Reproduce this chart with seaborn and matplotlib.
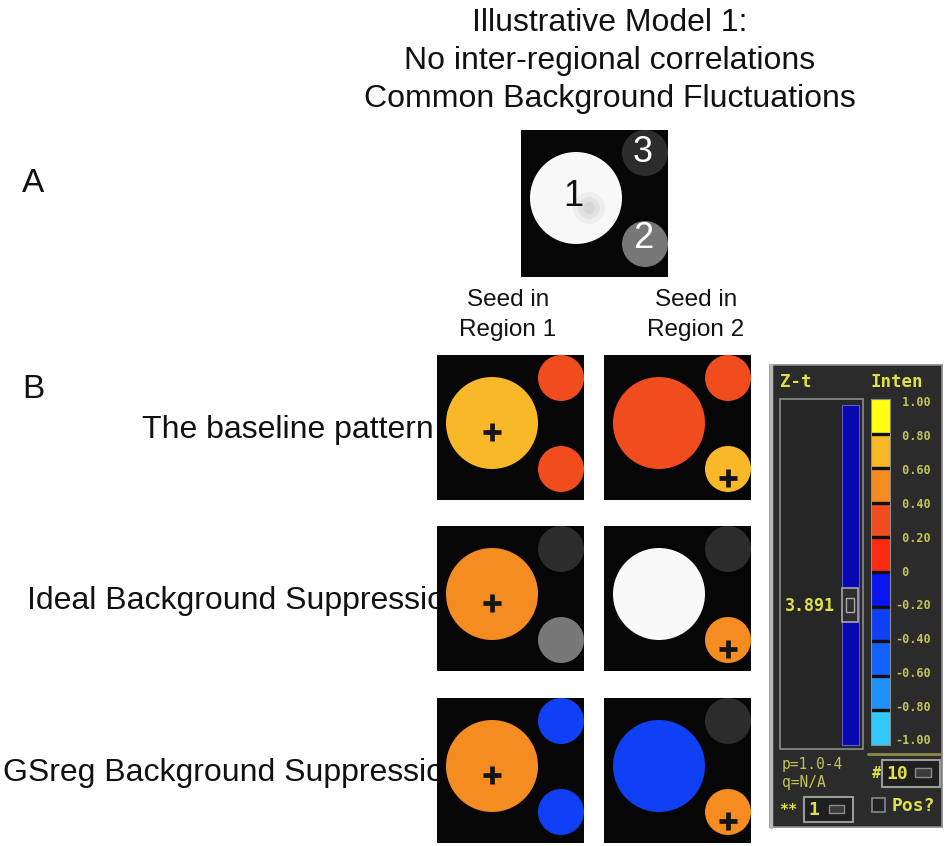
import numpy as np
import matplotlib.pyplot as plt
from matplotlib.colors import ListedColormap, Normalize
from matplotlib.patches import Circle, Rectangle
import seaborn as sns

sns.set_style('white')
plt.rcParams['font.family'] = ['Liberation Sans', 'DejaVu Sans']

# ---- content ----
title_lines = ['Illustrative Model 1:', 'No inter-regional correlations',
               'Common Background Fluctuations']
row_labels = ['The baseline pattern', 'Ideal Background Suppression',
              'GSreg Background Suppression']
seed_labels = [['Seed in', 'Region 1'], ['Seed in', 'Region 2']]
region_ids = [1, 2, 3]
underlay_grey = ['#f8f8f8', '#777777', '#2c2c2c']   # anatomical underlay of regions 1,2,3

# correlation with the seed shown in regions 1, 2, 3 (nan = below threshold)
baseline_seed1 = [0.7, 0.3, 0.3]
baseline_seed2 = [0.3, 0.7, 0.3]
ideal_seed1 = [0.5, np.nan, np.nan]
ideal_seed2 = [np.nan, 0.5, np.nan]
gsreg_seed1 = [0.5, -0.3, -0.3]
gsreg_seed2 = [-0.3, 0.5, np.nan]
rows = [[baseline_seed1, baseline_seed2],
        [ideal_seed1, ideal_seed2],
        [gsreg_seed1, gsreg_seed2]]
seeds = [1, 2]

# AFNI colour bar (-1 -> 1)
bin_colors = ['#33c8ff', '#2090ff', '#1462ff', '#1040f5', '#0a14f0',
              '#ff2a12', '#f04c1e', '#f58c22', '#f9b828', '#ffff10']
tick_values = [1.0, 0.8, 0.6, 0.4, 0.2, 0.0, -0.2, -0.4, -0.6, -0.8, -1.0]
tick_labels = [' 1.00', ' 0.80', ' 0.60', ' 0.40', ' 0.20', ' 0',
               '-0.20', '-0.40', '-0.60', '-0.80', '-1.00']
zt_value = '3.891'
pq_text = ['p=1.0-4', 'q=N/A']

cmap = ListedColormap(bin_colors)
norm = Normalize(-1, 1)

W, H = 947, 846
fig = plt.figure(figsize=(W / 100, H / 100), dpi=100)
canvas = fig.add_axes([0, 0, 1, 1])
canvas.set_xlim(0, W)
canvas.set_ylim(H, 0)
canvas.axis('off')


def box_axes(x, y, w, h):
    return fig.add_axes([x / W, 1 - (y + h) / H, w / W, h / H])


region_geom = {1: (55, 68, 46), 2: (124, 114, 23), 3: (124, 23, 23)}


def draw_tile(x, y, w, h, values, seed=None):
    ax = box_axes(x, y, w, h)
    ax.set_xlim(0, w)
    ax.set_ylim(h, 0)
    ax.set_facecolor('#060606')
    ax.set_xticks([])
    ax.set_yticks([])
    for s in ax.spines.values():
        s.set_visible(False)
    for rid, v in zip(region_ids, values):
        cx, cy, r = region_geom[rid]
        color = underlay_grey[rid - 1] if np.isnan(v) else cmap(norm(v))
        ax.add_patch(Circle((cx, cy), r, color=color, lw=0))
    if seed is not None:
        cx, cy, r = region_geom[seed]
        ax.plot(cx, cy + 9, marker='+', ms=13, mew=3.4, color='#141414')
    return ax


# ---- texts ----
for i, line in enumerate(title_lines):
    canvas.text(610, 23 + 38 * i, line, ha='center', va='center', fontsize=23, color='#111')
canvas.text(22, 183, 'A', ha='left', va='center', fontsize=24, color='#111')
canvas.text(22, 390, 'B', ha='left', va='center', fontsize=24, color='#111')
for xc, lab in zip([508, 696], seed_labels):
    canvas.text(xc, 300, lab[0], ha='center', va='center', fontsize=17.5, color='#111')
    canvas.text(xc, 330, lab[1], ha='center', va='center', fontsize=17.5, color='#111')

row_y = [355, 526, 698]
label_x = [142, 27, 3]
for ry, lx, lab in zip(row_y, label_x, row_labels):
    canvas.text(lx, ry + 75, lab, ha='left', va='center', fontsize=23, color='#111', zorder=1)

# ---- panel A ----
axA = draw_tile(521, 130, 147, 147, [np.nan, np.nan, np.nan])
for rad, a in [(16, 0.08), (11, 0.1), (6, 0.12)]:
    axA.add_patch(Circle((68, 78), rad, color='#808080', alpha=a, lw=0))
axA.text(52, 66, '1', ha='center', va='center', fontsize=26, color='#111')
axA.text(122, 23, '3', ha='center', va='center', fontsize=26, color='white')
axA.text(122, 108, '2', ha='center', va='center', fontsize=26, color='white')

# ---- panel B tiles ----
tile_x = [437, 604]
for ry, row in zip(row_y, rows):
    for tx, vals, seed in zip(tile_x, row, seeds):
        draw_tile(tx, ry, 147, 145, vals, seed)

# ---- AFNI colour panel ----
mono = 'DejaVu Sans Mono'
yel = '#e0e048'
olive = '#c4c456'
canvas.add_patch(Rectangle((770, 365), 172, 462, fc='#2b2b2b', ec='#8a8a8a', lw=1.2, zorder=3))
canvas.plot([771, 771], [365, 827], color='#b8b8b8', lw=2.5, zorder=4)
canvas.text(780, 382, 'Z-t', fontsize=12.5, family=mono, weight='bold', color=yel,
            ha='left', va='center', zorder=5)
canvas.text(871, 382, 'Inten', fontsize=12.5, family=mono, weight='bold', color=yel,
            ha='left', va='center', zorder=5)
# slider trough
canvas.add_patch(Rectangle((780, 399), 83, 350, fc='#262626', ec='#8c8c8c', lw=1.2, zorder=4))
canvas.add_patch(Rectangle((842, 405), 17, 340, fc='#0808b0', ec='#5a5ad0', lw=0.8, zorder=5))
canvas.add_patch(Rectangle((842, 588), 16, 34, fc='#2e2e2e', ec='#a8a8a8', lw=1.2, zorder=6))
canvas.add_patch(Rectangle((846, 598), 8, 14, fc='#2e2e2e', ec='#a8a8a8', lw=1.0, zorder=7))
canvas.text(785, 606, zt_value, fontsize=12, family=mono, weight='bold', color=yel,
            ha='left', va='center', zorder=5)
# colour strip
strip_top, strip_h = 399, 346
hm_ax = box_axes(871, strip_top, 19, strip_h)
centers = [(a + b) / 2 for a, b in zip(tick_values[:-1], tick_values[1:])]
sns.heatmap(np.array(centers).reshape(-1, 1), ax=hm_ax, cmap=cmap, vmin=-1, vmax=1,
            cbar=False, xticklabels=False, yticklabels=False)
hm_ax.hlines(range(1, len(centers)), 0, 1, color='#101010', lw=2.4)
for s in hm_ax.spines.values():
    s.set_visible(True)
    s.set_color('#8a8a8a')
for v, lab in zip(tick_values, tick_labels):
    yy = strip_top + 4 + (1 - v) / 2 * (strip_h - 8)
    canvas.text(895, yy, lab, fontsize=8.5, family=mono, weight='bold', color=olive,
                ha='left', va='center', zorder=5)
canvas.plot([868, 940], [754, 754], color='#8a8a4a', lw=2, zorder=5)
# bottom widgets
canvas.text(782, 765, pq_text[0], fontsize=10.5, family=mono, color=olive,
            ha='left', va='center', zorder=5)
canvas.text(782, 782, pq_text[1], fontsize=10.5, family=mono, color=olive,
            ha='left', va='center', zorder=5)
canvas.text(872, 774, '#', fontsize=11, family=mono, weight='bold', color=yel,
            ha='left', va='center', zorder=5)
canvas.add_patch(Rectangle((882, 760), 58, 27, fc='#1f1f1f', ec='#9a9a9a', lw=1.5, zorder=5))
canvas.text(886, 774, '10', fontsize=13, family=mono, weight='bold', color=yel,
            ha='left', va='center', zorder=6)
canvas.add_patch(Rectangle((915, 768), 16, 9, fc='#3a3a3a', ec='#8a8a8a', lw=1, zorder=6))
canvas.text(779, 811, '**', fontsize=11, family=mono, weight='bold', color=yel,
            ha='left', va='center', zorder=5)
canvas.add_patch(Rectangle((804, 797), 49, 25, fc='#1f1f1f', ec='#9a9a9a', lw=1.5, zorder=5))
canvas.text(808, 810, '1', fontsize=13, family=mono, weight='bold', color=yel,
            ha='left', va='center', zorder=6)
canvas.add_patch(Rectangle((829, 805), 15, 8, fc='#3a3a3a', ec='#8a8a8a', lw=1, zorder=6))
canvas.add_patch(Rectangle((872, 798), 13, 14, fc='#222222', ec='#8a8a8a', lw=1.2, zorder=5))
canvas.text(892, 806, 'Pos?', fontsize=13, family=mono, weight='bold', color=yel,
            ha='left', va='center', zorder=5)

fig.savefig('out.png', dpi=100)
